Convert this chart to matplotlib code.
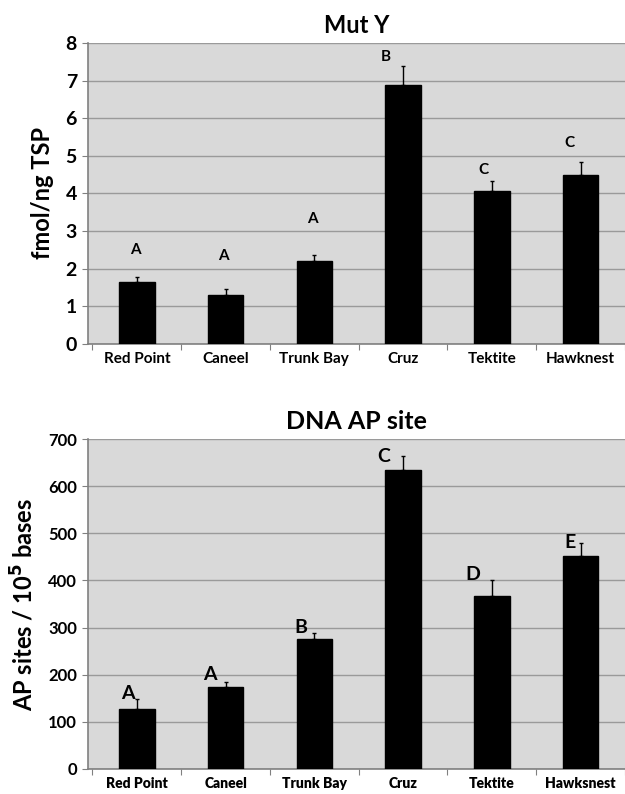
import matplotlib.pyplot as plt
import numpy as np

# Standorte (oben "Hawknest", unten "Hawksnest" wie im Original)
sites_top = ["Red Point", "Caneel", "Trunk Bay", "Cruz", "Tektite", "Hawknest"]
sites_bottom = ["Red Point", "Caneel", "Trunk Bay", "Cruz", "Tektite", "Hawksnest"]

# Mut Y
muty_mean = [1.66, 1.31, 2.21, 6.88, 4.07, 4.48]
muty_err = [0.13, 0.15, 0.15, 0.52, 0.27, 0.35]
muty_letters = ["A", "A", "A", "B", "C", "C"]
muty_letter_y = [2.49, 2.33, 3.33, 7.63, 4.63, 5.34]
muty_letter_dx = [-0.02, -0.02, -0.02, -0.2, -0.09, -0.13]

# DNA AP site
ap_mean = [128, 173, 276, 635, 368, 451]
ap_err = [21, 12, 12, 28, 33, 29]
ap_letters = ["A", "A", "B", "C", "D", "E"]
ap_letter_y = [160, 201, 301, 662, 412, 480]
ap_letter_dx = [-0.1, -0.18, -0.15, -0.22, -0.22, -0.12]

plt.rcParams["font.family"] = ["Lato", "DejaVu Sans"]
plt.rcParams["font.weight"] = "bold"

fig = plt.figure(figsize=(6.25, 7.94), dpi=100)
ax1 = fig.add_axes([0.1408, 0.5668, 0.8592, 0.379])
ax2 = fig.add_axes([0.1408, 0.0315, 0.8592, 0.4156])


def panel(ax, labels, mean, err, letters, letter_y, letter_dx, ymax, ystep,
          title, ylabel, letter_size, xlabel_size, xlabel_weight, tick_size,
          title_size):
    x = np.arange(len(labels))
    ax.set_facecolor("#d9d9d9")
    ax.bar(x, mean, width=0.4, color="black", edgecolor="black", zorder=3)
    ax.errorbar(x, mean, yerr=[np.zeros(len(err)), err], fmt="none",
                ecolor="black", elinewidth=1.0, capsize=1.5, capthick=1.0,
                zorder=4)
    for xi, t, ly, dx in zip(x, letters, letter_y, letter_dx):
        ax.text(xi + dx, ly, t, ha="center", va="center",
                fontsize=letter_size, fontweight="bold", zorder=5)

    ax.set_xlim(-0.55, 5.49)
    ax.set_ylim(0, ymax)
    ax.set_yticks(np.arange(0, ymax + ystep / 2, ystep))
    ax.yaxis.grid(True, color="#9a9a9a", linewidth=1.0, zorder=0)
    ax.set_axisbelow(True)

    # Striche zwischen den Kategorien, Beschriftung in der Mitte
    ax.set_xticks(np.arange(-0.5, len(labels), 1.0))
    ax.set_xticklabels([])
    ax.set_xticks(x, minor=True)
    ax.set_xticklabels(labels, minor=True, fontsize=xlabel_size,
                       fontweight=xlabel_weight)
    ax.tick_params(axis="x", which="major", direction="out", length=4,
                   color="#808080")
    ax.tick_params(axis="x", which="minor", length=0, pad=6)
    ax.tick_params(axis="y", direction="out", length=4, color="#808080",
                   labelsize=tick_size, pad=4)
    for lab in ax.get_yticklabels():
        lab.set_fontweight("bold")

    for s in ["top", "right"]:
        ax.spines[s].set_visible(False)
    for s in ["left", "bottom"]:
        ax.spines[s].set_color("#808080")
        ax.spines[s].set_linewidth(1.2)

    ax.set_title(title, fontsize=title_size, fontweight="bold", pad=7)
    ax.set_ylabel(ylabel, fontsize=17, fontweight="bold", labelpad=8)


panel(ax1, sites_top, muty_mean, muty_err, muty_letters, muty_letter_y,
      muty_letter_dx, 8, 1, "Mut Y", "fmol/ng TSP", 11, 11, "bold", 14, 17)
panel(ax2, sites_bottom, ap_mean, ap_err, ap_letters, ap_letter_y,
      ap_letter_dx, 700, 100, "DNA AP site", "AP sites / 10$^5$ bases",
      14, 10, "heavy", 12, 18)

fig.savefig("out.png", dpi=100)
